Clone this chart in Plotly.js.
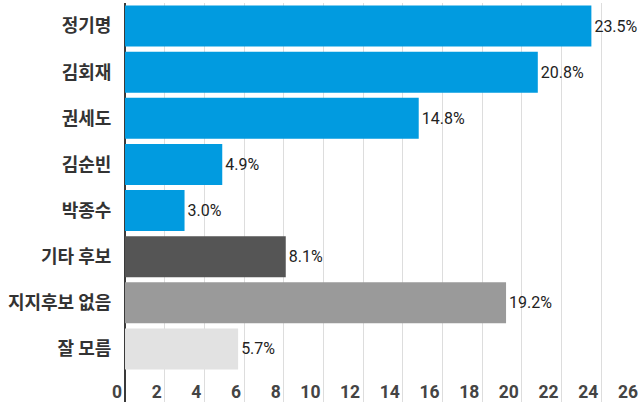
<!DOCTYPE html>
<html>
<head>
<meta charset="utf-8">
<script src="https://cdn.plot.ly/plotly-3.0.1.min.js"></script>
<style>html,body{margin:0;padding:0;background:#fff;}#chart{width:644px;height:406px;}</style>
</head>
<body>
<div id="chart"></div>
<script>
var categories = ['정기명', '김회재', '권세도', '김순빈', '박종수', '기타 후보', '지지후보 없음', '잘 모름'];
var values = [23.5, 20.8, 14.8, 4.9, 3.0, 8.1, 19.2, 5.7];
var barColors = ['#019be0', '#019be0', '#019be0', '#019be0', '#019be0', '#555555', '#9a9a9a', '#e2e2e2'];
var xTicks = [0, 2, 4, 6, 8, 10, 12, 14, 16, 18, 20, 22, 24, 26];

var trace = {
  type: 'bar',
  orientation: 'h',
  y: categories,
  x: values,
  marker: {color: barColors},
  text: values.map(function(v){ return v.toFixed(1) + '%'; }),
  textposition: 'outside',
  constraintext: 'none',
  textfont: {family: 'Roboto, sans-serif', size: 16, color: '#222'},
  cliponaxis: false,
  hoverinfo: 'none'
};

var layout = {
  width: 644, height: 406,
  margin: {l: 125, r: 3, t: 3, b: 4},
  paper_bgcolor: '#fff', plot_bgcolor: '#fff',
  bargap: 0.11,
  showlegend: false,
  xaxis: {
    range: [0, 26],
    tickvals: xTicks,
    ticktext: xTicks.map(String),
    ticklabelposition: 'inside left',
    ticklabeloverflow: 'allow',
    ticklabelstandoff: -5,
    ticklabelshift: -3,
    ticks: '',
    showgrid: true, gridcolor: '#dddddd', gridwidth: 1,
    zeroline: true, zerolinecolor: '#3a3a3a', zerolinewidth: 2,
    showline: false,
    tickfont: {family: 'Roboto, sans-serif', size: 17.5, color: '#444', weight: 'bold'},
    fixedrange: true
  },
  yaxis: {
    type: 'category',
    range: [8.15, -0.5],
    showgrid: false, zeroline: false, showline: false,
    ticks: 'outside', ticklen: 9, tickcolor: 'rgba(0,0,0,0)',
    tickfont: {family: '"Noto Sans CJK KR", sans-serif', size: 18, color: '#333', weight: 'bold'},
    fixedrange: true
  }
};

Plotly.newPlot('chart', [trace], layout, {displayModeBar: false, staticPlot: true});
</script>
</body>
</html>
